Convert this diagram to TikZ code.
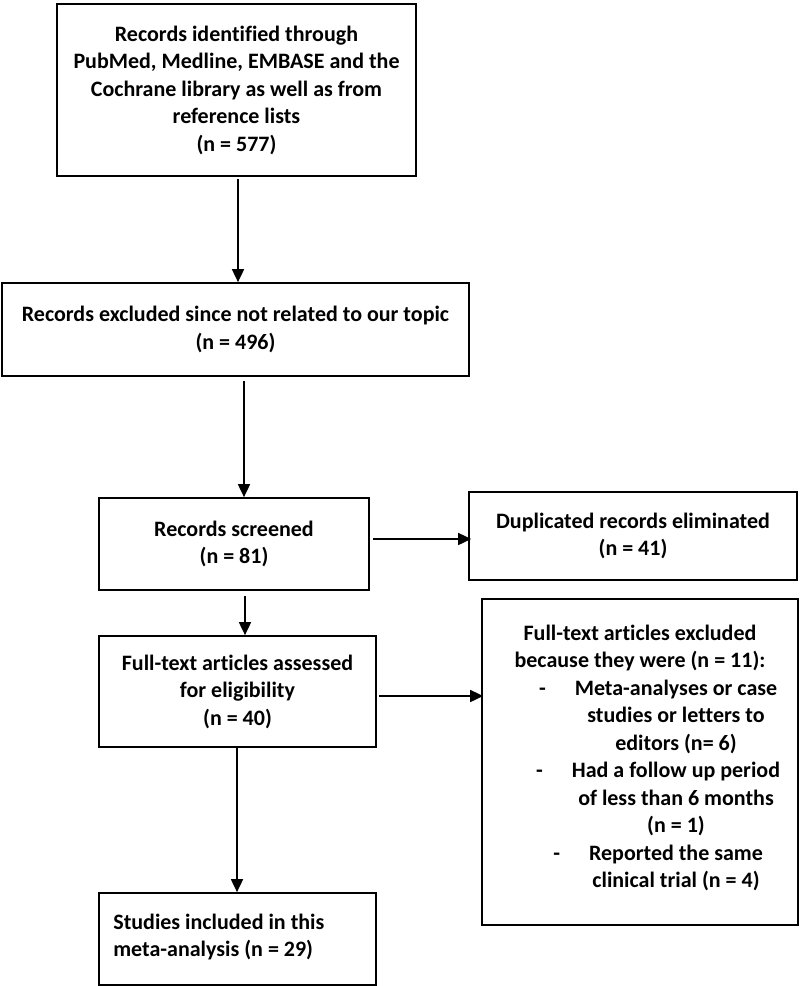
\documentclass[tikz,border=0pt]{standalone}
\usepackage{fontspec}
\setmainfont[Ligatures=NoCommon]{Carlito}
\usetikzlibrary{arrows.meta}
\newcommand\gitem[1]{\hspace*{72pt}\llap{-\hspace{29pt}}#1}
\newcommand\gcont[1]{\hspace*{72pt}#1}
\begin{document}
\begin{tikzpicture}[x=1pt,y=-1pt,
  box/.style={draw, line width=1.7pt, align=center, inner sep=0pt, anchor=center,
    font=\fontsize{22}{27.5}\selectfont\bfseries},
  txt/.style={align=left, inner sep=0pt, font=\fontsize{22}{27.5}\selectfont\bfseries},
  arr/.style={line width=1.7pt, -{Triangle[length=13pt,width=12pt]}}]
\useasboundingbox[fill=white] (0,0) rectangle (800,986);

\node[box, minimum width=359pt, minimum height=172pt] (A) at (236.5,90)
  {Records identified through\\PubMed, Medline, EMBASE and the\\Cochrane library as well as from\\reference lists\\(n = 577)};
\node[box, minimum width=467pt, minimum height=93pt] (B) at (235.5,329.5)
  {Records excluded since not related to our topic\\(n = 496)};
\node[box, minimum width=270pt, minimum height=92pt] (C) at (234,544)
  {Records screened\\(n = 81)};
\node[box, minimum width=277pt, minimum height=111pt] (D) at (237.5,691.5)
  {Full-text articles assessed\\for eligibility\\(n = 40)};
\node[box, minimum width=277pt, minimum height=92pt] (E) at (237.5,939) {};
\node[txt, anchor=west] (Et) at ([xshift=15pt,yshift=2pt]E.west)
  {Studies included in this\\meta-analysis (n = 29)};
\node[box, minimum width=328pt, minimum height=88pt] (F) at (633,536)
  {Duplicated records eliminated\\(n = 41)};
\node[box, minimum width=316pt, minimum height=326pt] (G) at (640,762) {};
\node[txt, align=center] (Gt) at ([yshift=4pt]G.center)
  {Full-text articles excluded\\because they were (n = 11):\\
   \gitem{Meta-analyses or case}\\
   \gcont{studies or letters to}\\
   \gcont{editors (n= 6)}\\
   \gitem{Had a follow up period}\\
   \gcont{of less than 6 months}\\
   \gcont{(n = 1)}\\
   \gitem{Reported the same}\\
   \gcont{clinical trial (n = 4)}};

\draw[arr] ([xshift=1.5pt,yshift=-2pt]A.south) -- ([xshift=1.5pt]A.south |- B.north);
\draw[arr] ([xshift=8.5pt,yshift=-4pt]B.south) -- ([xshift=8.5pt]B.south |- C.north);
\draw[arr] ([xshift=11pt,yshift=-5pt]C.south) -- ([xshift=11pt]C.south |- D.north);
\draw[arr] ([xshift=-0.5pt]D.south) -- ([xshift=-0.5pt]D.south |- E.north);
\draw[arr] ([xshift=3pt,yshift=5pt]C.east) -- ([xshift=3pt,yshift=5pt]C.east -| F.west);
\draw[arr] ([xshift=2pt,yshift=-4.5pt]D.east) -- ([xshift=2pt,yshift=-4.5pt]D.east -| G.west);
\end{tikzpicture}
\end{document}
